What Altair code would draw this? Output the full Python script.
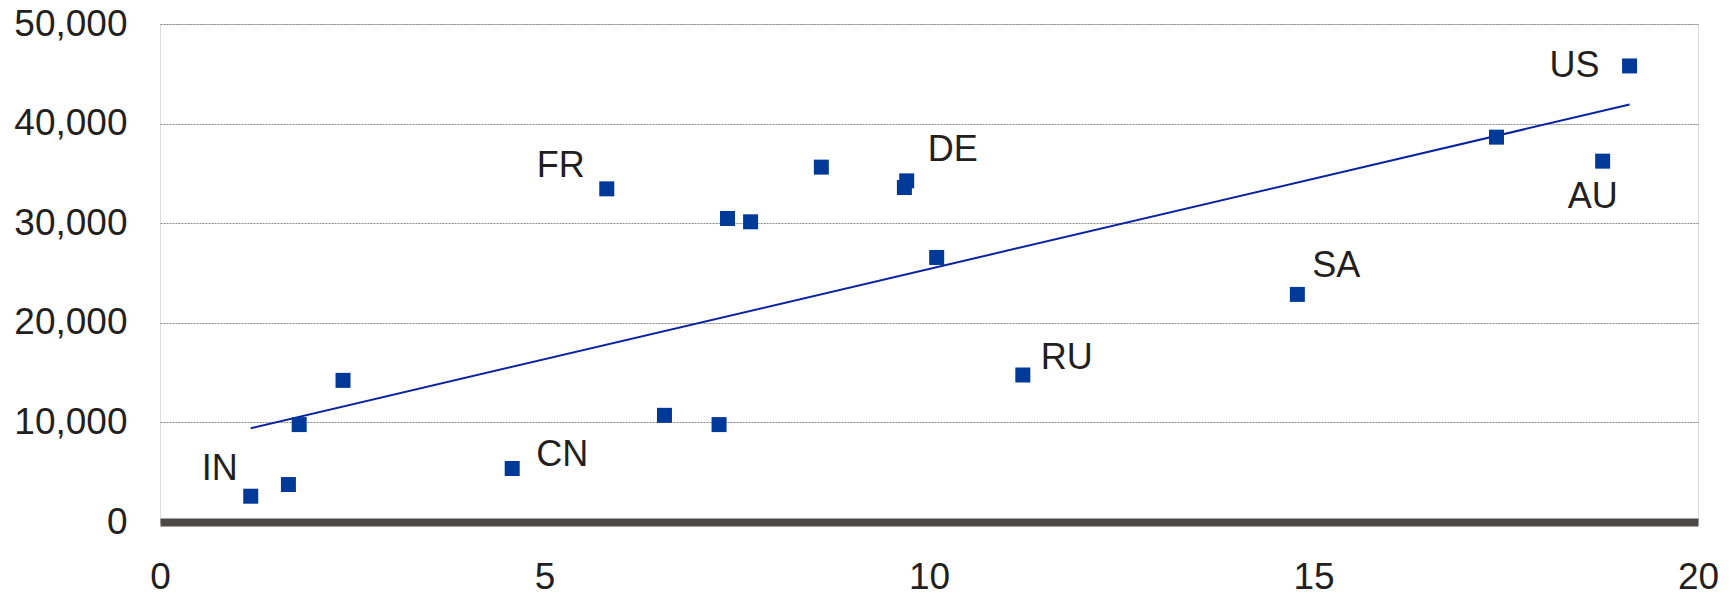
import altair as alt
import pandas as pd

# values
x_vals = [1.18, 1.67, 1.81, 2.38, 4.58, 5.81, 6.56, 7.27, 7.38, 7.68,
          8.60, 9.68, 9.71, 10.10, 11.22, 14.79, 17.38, 18.76, 19.11]
y_vals = [2590, 3760, 9780, 14220, 5370, 33450, 10710, 9780, 30470, 30140,
          35630, 33580, 34250, 26560, 14760, 22850, 38640, 36230, 45790]
labels = ["IN", "", "", "", "CN", "FR", "", "", "", "",
          "", "", "DE", "", "RU", "SA", "", "AU", "US"]
x_ticks = [0, 5, 10, 15, 20]
y_ticks = [0, 10000, 20000, 30000, 40000, 50000]

df = pd.DataFrame({"x": x_vals, "y": y_vals, "label": labels})

FONT = "Liberation Sans"
TXT = "#231f20"

xenc = alt.X("x:Q", scale=alt.Scale(domain=[0, 20], nice=False, zero=False),
             axis=alt.Axis(values=x_ticks, title=None, grid=False, ticks=False,
                           format="d",
                           domain=True, domainColor="#4d4948", domainWidth=8,
                           labelFontSize=37, labelFont=FONT, labelColor=TXT,
                           labelPadding=37, labelFlush=False))
yenc = alt.Y("y:Q", scale=alt.Scale(domain=[0, 50000], nice=False),
             axis=alt.Axis(values=y_ticks, title=None, format=",.0f", ticks=False,
                           domain=False, grid=True, gridColor="#8a8a8a",
                           gridDash=[2, 1], gridWidth=1,
                           labelFontSize=37, labelFont=FONT, labelColor=TXT,
                           labelPadding=33))

base = alt.Chart(df)

trend = base.transform_regression("x", "y").mark_line(
    color="#0a22a0", strokeWidth=2
).encode(x=xenc, y=yenc)

points = base.mark_point(shape="square", filled=True, size=225, opacity=1,
                         color="#003a99", strokeWidth=0).encode(x=xenc, y=yenc)

# label placement (style) per country code
placement = {
    "IN": dict(align="right", dx=-13, dy=-27),
    "CN": dict(align="left", dx=24, dy=-14),
    "FR": dict(align="right", dx=-22, dy=-23),
    "DE": dict(align="left", dx=21, dy=-31),
    "RU": dict(align="left", dx=18, dy=-17),
    "SA": dict(align="left", dx=15, dy=-28),
    "AU": dict(align="center", dx=-10, dy=36),
    "US": dict(align="right", dx=-30, dy=0),
}

text_layers = []
for code, p in placement.items():
    text_layers.append(
        base.transform_filter(alt.datum.label == code).mark_text(
            font=FONT, fontSize=36, color=TXT, baseline="middle", **p
        ).encode(x=xenc, y=yenc, text="label:N")
    )

chart = alt.layer(trend, points, *text_layers).properties(
    width=1538, height=498,
    padding={"left": 152, "top": 16, "right": 29, "bottom": 80},
    autosize=alt.AutoSizeParams(type="none"),
).configure_view(stroke=None).configure(font=FONT)

chart.save("out.html", embed_options={"renderer": "svg", "actions": False})
